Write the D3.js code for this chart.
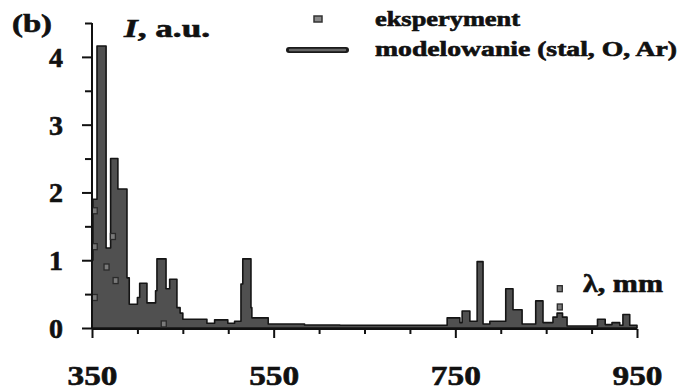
<!DOCTYPE html>
<html>
<head>
<meta charset="utf-8">
<script src="https://cdn.jsdelivr.net/npm/d3@7/dist/d3.min.js"></script>
<style>
  html, body { margin: 0; padding: 0; background: #fff; }
  svg { display: block; }
  text { font-family: "Liberation Serif", "Times New Roman", serif; font-weight: bold; fill: #111; stroke: #111; stroke-width: 0.6px; }
</style>
</head>
<body>
<svg id="chart" width="688" height="392"></svg>
<script>
// ---- data ----
// modelled spectrum as steps: wavelength (nm) where a level starts, and that level
const modelLambda = [350, 351, 355.5, 365.5, 370.5, 378.5, 388.5, 391, 400, 402.5, 410.5, 420, 421.5, 431.5, 435.5, 443.5, 447, 450, 476.5, 485, 499.5, 507, 514, 516, 525, 526, 544, 584, 623, 741, 755, 757.5, 766, 774, 780.5, 788, 805.5, 813.5, 823.5, 838.5, 846.5, 857.5, 862, 868, 873, 906.5, 915, 922.5, 931, 934.5, 942, 950];
const modelValue  = [1.0, 1.9, 4.16, 1.18, 2.5, 2.05, 0.74, 0.35, 0.45, 0.66, 0.37, 0.55, 1.02, 0.58, 0.72, 0.3, 0.22, 0.13, 0.07, 0.12, 0.07, 0.1, 0.65, 1.02, 0.3, 0.15, 0.06, 0.045, 0.04, 0.15, 0.08, 0.25, 0.1, 0.98, 0.06, 0.1, 0.58, 0.27, 0.06, 0.4, 0.08, 0.16, 0.22, 0.16, 0.03, 0.13, 0.05, 0.08, 0.04, 0.2, 0.04, 0];
// experimental points
const expLambda = [353, 353, 353, 366, 373, 376, 429, 865, 865];
const expValue  = [1.73, 1.2, 0.45, 0.9, 1.35, 0.7, 0.06, 0.58, 0.31];
// ticks
const xMajorTicks = [350, 550, 750, 950];
const xMinorTicks = [400, 450, 500, 600, 650, 700, 800, 850, 900];
const yMajorTicks = [0, 1, 2, 3, 4];
const yMinorTicks = [0.5, 1.5, 2.5, 3.5, 4.5];
const legendLabels = ["eksperyment", "modelowanie (stal, O, Ar)"];

// ---- drawing ----
const svg = d3.select("#chart");
const x = d3.scaleLinear().domain([350, 950]).range([92, 637]);
const y = d3.scaleLinear().domain([0, 4.5]).range([328, 23]);

const model = modelLambda.map((l, i) => ({ l, v: modelValue[i] }));

const area = d3.area()
  .curve(d3.curveStepAfter)
  .x(d => x(d.l))
  .y0(y(0))
  .y1(d => y(d.v));

svg.append("path")
  .datum(model)
  .attr("d", area)
  .attr("fill", "#505050")
  .attr("stroke", "#151515")
  .attr("stroke-width", 1.6)
  .attr("stroke-linejoin", "round");

// experiment points
svg.selectAll("rect.exp")
  .data(expLambda.map((l, i) => ({ l, v: expValue[i] })))
  .join("rect")
  .attr("class", "exp")
  .attr("x", d => x(d.l) - 2.5)
  .attr("y", d => y(d.v) - 3)
  .attr("width", 5)
  .attr("height", 6)
  .attr("fill", "#7a7a7a")
  .attr("stroke", "#2a2a2a")
  .attr("stroke-width", 1.3);

// x axis
const xAxisMajor = d3.axisBottom(x).tickValues(xMajorTicks).tickSize(9).tickFormat(d3.format("d")).tickPadding(27);
const gx = svg.append("g").attr("transform", `translate(0,${y(0) + 1})`).call(xAxisMajor);
const gxMinor = svg.append("g").attr("transform", `translate(0,${y(0) + 1})`)
  .call(d3.axisBottom(x).tickValues(xMinorTicks).tickSize(5).tickFormat(""));
gxMinor.select(".domain").remove();

// y axis
const gy = svg.append("g").attr("transform", `translate(${x(350)},0)`)
  .call(d3.axisLeft(y).tickValues(yMajorTicks).tickSize(10).tickFormat(d3.format("d")).tickPadding(19));
const gyMinor = svg.append("g").attr("transform", `translate(${x(350)},0)`)
  .call(d3.axisLeft(y).tickValues(yMinorTicks).tickSize(7).tickFormat(""));
gyMinor.select(".domain").remove();

[gx, gxMinor, gy, gyMinor].forEach(g => {
  g.selectAll(".domain").attr("stroke", "#111").attr("stroke-width", 2);
  g.selectAll(".tick line").attr("stroke", "#111").attr("stroke-width", 2);
});
gy.select(".domain").attr("d", `M0,${y(0) + 1}V${y(4.5)}`);
gx.select(".domain").attr("d", `M${x(350)},0H${x(950)}`);

gx.selectAll(".tick text")
  .attr("font-size", 28)
  .attr("textLength", 50)
  .attr("lengthAdjust", "spacingAndGlyphs");
gy.selectAll(".tick text")
  .attr("font-size", 28)
  .attr("dy", "0.34em");

// panel label
svg.append("text").attr("x", 12).attr("y", 32).attr("font-size", 26)
  .attr("textLength", 40).attr("lengthAdjust", "spacingAndGlyphs").text("(b)");

// y-axis title
const yt = svg.append("text").attr("x", 124).attr("y", 37).attr("font-size", 26)
  .attr("textLength", 86).attr("lengthAdjust", "spacingAndGlyphs");
yt.append("tspan").attr("font-style", "italic").text("I");
yt.append("tspan").text(", a.u.");

// x-axis title
svg.append("text").attr("x", 583).attr("y", 292).attr("font-size", 25)
  .attr("textLength", 80).attr("lengthAdjust", "spacingAndGlyphs").text("λ, mm");

// legend
svg.append("rect").attr("x", 314).attr("y", 16).attr("width", 8).attr("height", 6)
  .attr("fill", "#8a8a8a").attr("stroke", "#333").attr("stroke-width", 1.5);
svg.append("line").attr("x1", 289).attr("x2", 346).attr("y1", 50).attr("y2", 50)
  .attr("stroke", "#1a1a1a").attr("stroke-width", 6).attr("stroke-linecap", "round");
svg.append("line").attr("x1", 290).attr("x2", 345).attr("y1", 50).attr("y2", 50)
  .attr("stroke", "#666").attr("stroke-width", 2.5).attr("stroke-linecap", "round");
svg.append("text").attr("x", 375).attr("y", 26).attr("font-size", 20)
  .attr("textLength", 145).attr("lengthAdjust", "spacingAndGlyphs").text(legendLabels[0]);
svg.append("text").attr("x", 375).attr("y", 56).attr("font-size", 20)
  .attr("textLength", 302).attr("lengthAdjust", "spacingAndGlyphs").text(legendLabels[1]);
</script>
</body>
</html>
